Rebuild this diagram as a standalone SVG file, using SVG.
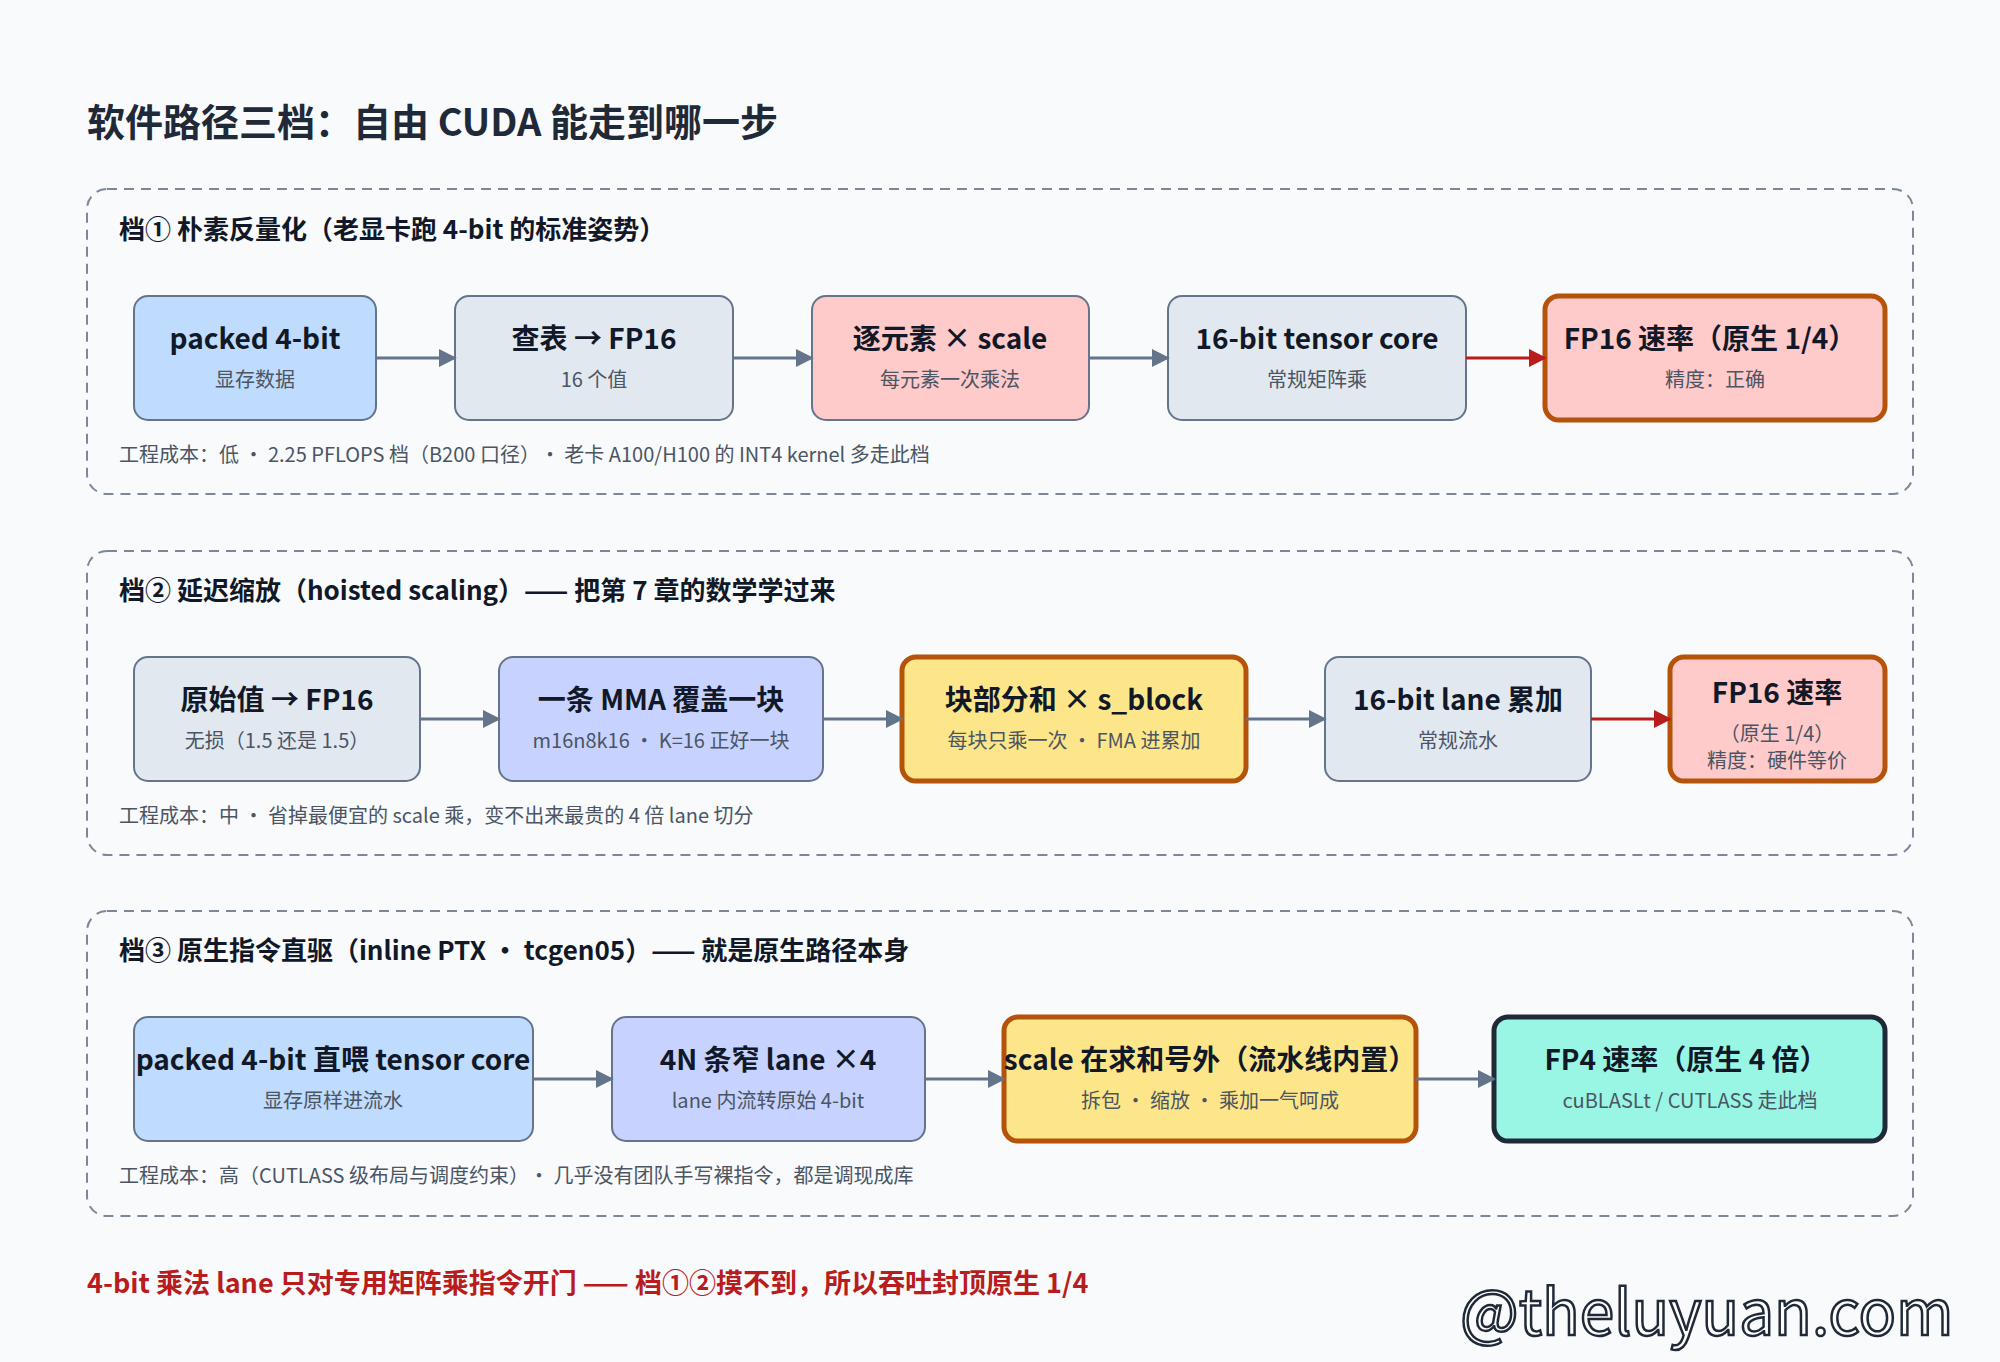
<svg xmlns="http://www.w3.org/2000/svg" width="2000" height="1362" viewBox="0 0 2000 1362">
<defs>
<style>
text{font-family:"Noto Sans CJK SC","Noto Sans",sans-serif}
.sec{fill:none;stroke:#7c8798;stroke-width:2;stroke-dasharray:10 7}
.hd{font-size:26px;font-weight:700;fill:#111827}
.t{font-size:28px;font-weight:700;fill:#111827;text-anchor:middle}
.s{font-size:20px;fill:#4b5563;text-anchor:middle}
.note{font-size:20px;fill:#4b5563}
.n{stroke:#64748b;stroke-width:2}
.hot{stroke:#b45309;stroke-width:5}
.c{stroke:#64748b;stroke-width:3;fill:none}
.cr{stroke:#b91c1c;stroke-width:3;fill:none}
</style>
<marker id="ag" viewBox="0 0 10 10" refX="9" refY="5" markerWidth="6" markerHeight="6" orient="auto" markerUnits="strokeWidth"><path d="M0,0L10,5L0,10z" fill="#64748b"/></marker>
<marker id="ar" viewBox="0 0 10 10" refX="9" refY="5" markerWidth="6" markerHeight="6" orient="auto" markerUnits="strokeWidth"><path d="M0,0L10,5L0,10z" fill="#b91c1c"/></marker>
</defs>
<rect width="2000" height="1362" fill="#f8fafc"/>
<text x="87" y="136" font-size="38" font-weight="700" fill="#1f2937">软件路径三档：自由 CUDA 能走到哪一步</text>

<g id="section1">
<rect class="sec" x="87" y="189" width="1826" height="305" rx="20"/>
<text class="hd" x="119" y="239">档① 朴素反量化（老显卡跑 4-bit 的标准姿势）</text>
<text class="note" x="119" y="462">工程成本：低 • 2.25 PFLOPS 档（B200 口径）• 老卡 A100/H100 的 INT4 kernel 多走此档</text>
</g>
<g id="s1n1"><rect class="n" x="134" y="296" width="242" height="124" rx="14" fill="#bfdbfe"/><text class="t" x="255" y="349">packed 4-bit</text><text class="s" x="255" y="387">显存数据</text></g>
<g id="s1n2"><rect class="n" x="455" y="296" width="278" height="124" rx="14" fill="#e2e8f0"/><text class="t" x="594" y="349">查表 → FP16</text><text class="s" x="594" y="387">16 个值</text></g>
<g id="s1n3"><rect class="n" x="812" y="296" width="277" height="124" rx="14" fill="#fecaca"/><text class="t" x="950" y="349">逐元素 × scale</text><text class="s" x="950" y="387">每元素一次乘法</text></g>
<g id="s1n4"><rect class="n" x="1168" y="296" width="298" height="124" rx="14" fill="#e2e8f0"/><text class="t" x="1317" y="349">16-bit tensor core</text><text class="s" x="1317" y="387">常规矩阵乘</text></g>
<g id="s1n5"><rect class="hot" x="1545" y="296" width="340" height="124" rx="14" fill="#fecaca"/><text class="t" x="1710" y="349">FP16 速率（原生 1/4）</text><text class="s" x="1715" y="387">精度：正确</text></g>

<g id="section2">
<rect class="sec" x="87" y="551" width="1826" height="304" rx="20"/>
<text class="hd" x="119" y="600">档② 延迟缩放（hoisted scaling）—— 把第 7 章的数学学过来</text>
<text class="note" x="119" y="823">工程成本：中 • 省掉最便宜的 scale 乘，变不出来最贵的 4 倍 lane 切分</text>
</g>
<g id="s2n1"><rect class="n" x="134" y="657" width="286" height="124" rx="14" fill="#e2e8f0"/><text class="t" x="277" y="710">原始值 → FP16</text><text class="s" x="277" y="748">无损（1.5 还是 1.5）</text></g>
<g id="s2n2"><rect class="n" x="499" y="657" width="324" height="124" rx="14" fill="#c7d2fe"/><text class="t" x="661" y="710">一条 MMA 覆盖一块</text><text class="s" x="661" y="748">m16n8k16 • K=16 正好一块</text></g>
<g id="s2n3"><rect class="hot" x="902" y="657" width="344" height="124" rx="14" fill="#fde68a"/><text class="t" x="1074" y="710">块部分和 × s_block</text><text class="s" x="1074" y="748">每块只乘一次 • FMA 进累加</text></g>
<g id="s2n4"><rect class="n" x="1325" y="657" width="266" height="124" rx="14" fill="#e2e8f0"/><text class="t" x="1458" y="710">16-bit lane 累加</text><text class="s" x="1458" y="748">常规流水</text></g>
<g id="s2n5"><rect class="hot" x="1670" y="657" width="215" height="124" rx="14" fill="#fecaca"/><text class="t" x="1777" y="703">FP16 速率</text><text class="s" x="1777" y="741">（原生 1/4）</text><text class="s" x="1777" y="768">精度：硬件等价</text></g>

<g id="section3">
<rect class="sec" x="87" y="911" width="1826" height="305" rx="20"/>
<text class="hd" x="119" y="960">档③ 原生指令直驱（inline PTX • tcgen05）—— 就是原生路径本身</text>
<text class="note" x="119" y="1183">工程成本：高（CUTLASS 级布局与调度约束）• 几乎没有团队手写裸指令，都是调现成库</text>
</g>
<g id="s3n1"><rect class="n" x="134" y="1017" width="399" height="124" rx="14" fill="#bfdbfe"/><text class="t" x="333" y="1070">packed 4-bit 直喂 tensor core</text><text class="s" x="333" y="1108">显存原样进流水</text></g>
<g id="s3n2"><rect class="n" x="612" y="1017" width="313" height="124" rx="14" fill="#c7d2fe"/><text class="t" x="768" y="1070">4N 条窄 lane ×4</text><text class="s" x="768" y="1108">lane 内流转原始 4-bit</text></g>
<g id="s3n3"><rect class="hot" x="1004" y="1017" width="412" height="124" rx="14" fill="#fde68a"/><text class="t" x="1210" y="1070">scale 在求和号外（流水线内置）</text><text class="s" x="1210" y="1108">拆包 • 缩放 • 乘加一气呵成</text></g>
<g id="s3n4"><rect x="1494" y="1017" width="391" height="124" rx="14" fill="#99f6e4" stroke="#1f2937" stroke-width="5"/><text class="t" x="1686" y="1070">FP4 速率（原生 4 倍）</text><text class="s" x="1690" y="1108">cuBLASLt / CUTLASS 走此档</text></g>

<g id="connectors">
<path class="c" marker-end="url(#ag)" d="M376 358H455"/>
<path class="c" marker-end="url(#ag)" d="M733 358H812"/>
<path class="c" marker-end="url(#ag)" d="M1089 358H1168"/>
<path class="cr" marker-end="url(#ar)" d="M1466 358H1545"/>
<path class="c" marker-end="url(#ag)" d="M420 719H499"/>
<path class="c" marker-end="url(#ag)" d="M823 719H902"/>
<path class="c" marker-end="url(#ag)" d="M1246 719H1325"/>
<path class="cr" marker-end="url(#ar)" d="M1591 719H1670"/>
<path class="c" marker-end="url(#ag)" d="M533 1079H612"/>
<path class="c" marker-end="url(#ag)" d="M925 1079H1004"/>
<path class="c" marker-end="url(#ag)" d="M1416 1079H1494"/>
</g>

<text x="87" y="1293" font-size="27" font-weight="700" fill="#b91c1c">4-bit 乘法 lane 只对专用矩阵乘指令开门 —— 档①②摸不到，所以吞吐封顶原生 1/4</text>
<text x="1460" y="1335" font-size="62" font-family="DejaVu Sans, sans-serif" fill="#ffffff" stroke="#1f2937" stroke-width="2.5">@theluyuan.com</text>
</svg>
